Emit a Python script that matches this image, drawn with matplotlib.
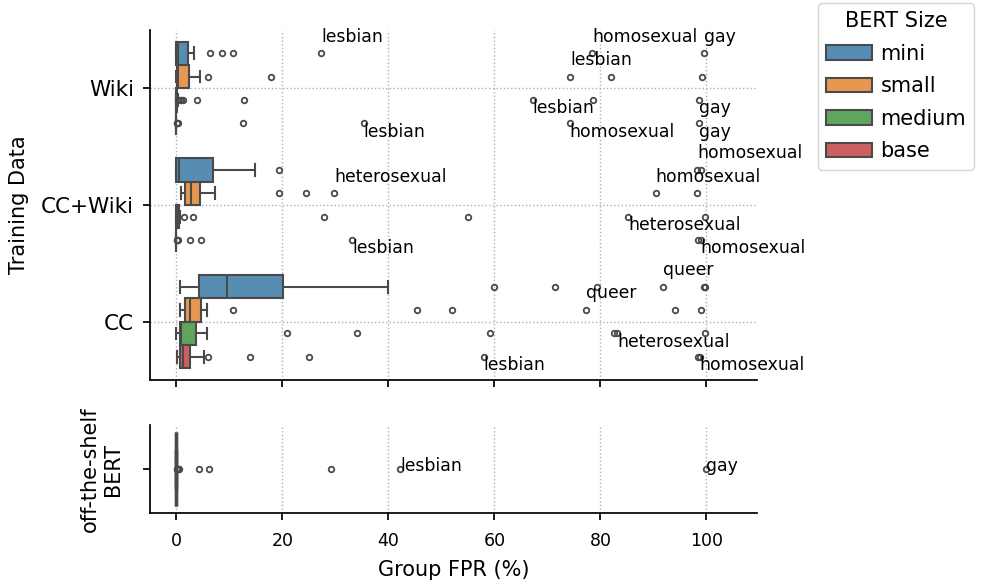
import matplotlib.pyplot as plt
from matplotlib.colors import to_rgba
from matplotlib.patches import Patch

sources = ['Wiki', 'CC+Wiki', 'CC']
sizes = ['mini', 'small', 'medium', 'base']
size_colors = ['#3274a1', '#e1812c', '#3a923a', '#c03d3e']

# box statistics: rows = training data, columns = BERT size
whis_lo = [[0.0, 0.0, 0.0, 0.0],
           [0.0, 0.8, 0.0, 0.0],
           [0.6, 0.6, 0.0, 0.1]]
q1 = [[0.0, 0.1, 0.0, 0.0],
      [0.0, 1.7, 0.0, 0.0],
      [4.3, 1.7, 0.6, 0.6]]
med = [[0.3, 0.3, 0.0, 0.0],
       [0.5, 2.7, 0.1, 0.0],
       [9.6, 2.5, 0.9, 1.3]]
q3 = [[2.2, 2.3, 0.1, 0.0],
      [6.9, 4.5, 0.5, 0.0],
      [20.1, 4.6, 3.7, 2.6]]
whis_hi = [[3.4, 4.4, 0.2, 0.0],
           [14.9, 7.3, 0.6, 0.0],
           [39.9, 5.7, 5.7, 5.2]]

fliers_wiki = [[6.4, 8.6, 10.7, 27.3, 78.4, 99.6],
               [6.0, 17.8, 74.3, 81.9, 99.2],
               [0.3, 0.6, 0.9, 1.2, 3.8, 12.8, 67.2, 78.6, 98.5],
               [0.05, 0.15, 0.25, 12.6, 35.3, 74.2, 98.5]]
fliers_ccwiki = [[19.3, 98.2, 98.9],
                 [19.3, 24.5, 29.8, 90.4, 98.2],
                 [1.4, 3.2, 27.8, 55.1, 85.2, 99.8],
                 [0.05, 0.15, 0.25, 2.6, 4.7, 33.2, 98.4, 98.9]]
fliers_cc = [[59.9, 71.5, 79.4, 91.8, 99.6, 99.8],
             [10.6, 45.4, 51.9, 77.2, 94.0, 99.0],
             [20.9, 34.1, 59.2, 82.5, 83.1, 99.8],
             [6.0, 13.8, 25.0, 58.0, 98.4, 98.7]]
fliers = [fliers_wiki, fliers_ccwiki, fliers_cc]

# named outliers (training data index, size index, value, group)
label_src = [0, 0, 0, 0, 0, 0, 0, 0, 0, 1, 1, 1, 1, 1, 1, 2, 2, 2, 2, 2]
label_size = [0, 0, 0, 1, 2, 2, 3, 3, 3, 0, 1, 1, 2, 3, 3, 0, 1, 2, 3, 3]
label_x = [27.3, 78.4, 99.6, 74.3, 67.2, 98.5, 35.3, 74.2, 98.5,
           98.2, 29.8, 90.4, 85.2, 33.2, 98.9,
           91.8, 77.2, 83.1, 58.0, 98.7]
label_word = ['lesbian', 'homosexual', 'gay', 'lesbian', 'lesbian', 'gay',
              'lesbian', 'homosexual', 'gay',
              'homosexual', 'heterosexual', 'homosexual', 'heterosexual',
              'lesbian', 'homosexual',
              'queer', 'queer', 'heterosexual', 'lesbian', 'homosexual']

# off-the-shelf BERT
ots_stats = [0.0, 0.0, 0.0, 0.0, 0.0]  # whislo, q1, med, q3, whishi
ots_fliers = [0.05, 0.1, 0.2, 0.3, 0.4, 4.2, 6.2, 29.2, 42.2, 99.9]
ots_label_x = [42.2, 99.9]
ots_label_word = ['lesbian', 'gay']

edge = '#4a4a4a'
offsets = [-0.3, -0.1, 0.1, 0.3]

fig = plt.figure(figsize=(9.82, 5.8), dpi=100)
ax = fig.add_axes([0.1527, 0.3448, 0.618, 0.6035])
ax2 = fig.add_axes([0.1527, 0.1155, 0.618, 0.1517])

line_kw = dict(color=edge, linewidth=1.5)
flier_kw = dict(marker='o', markerfacecolor='none', markeredgecolor=edge,
                markersize=4, markeredgewidth=1.3, linestyle='none')

for j, s in enumerate(sizes):
    stats = []
    for i in range(len(sources)):
        stats.append(dict(whislo=whis_lo[i][j], q1=q1[i][j], med=med[i][j],
                          q3=q3[i][j], whishi=whis_hi[i][j], fliers=fliers[i][j]))
    ax.bxp(stats, positions=[i + offsets[j] for i in range(len(sources))],
           widths=0.2, capwidths=0.1, orientation='horizontal', patch_artist=True,
           boxprops=dict(facecolor=to_rgba(size_colors[j], 0.82), edgecolor=edge, linewidth=1.5),
           whiskerprops=line_kw, capprops=line_kw, medianprops=line_kw,
           flierprops=flier_kw, manage_ticks=False)

for src, sz, x, w in zip(label_src, label_size, label_x, label_word):
    dy = 12 if sz < 2 else -6
    ax.annotate(w, (x, src + offsets[sz]), xytext=(0, dy), textcoords='offset points',
                ha='left', va='center', fontsize=12.4, annotation_clip=False)

ax.set_ylim(2.5, -0.5)
ax.set_yticks(range(len(sources)))
ax.set_yticklabels(sources, fontsize=15.5)
ax.set_ylabel('Training Data', fontsize=15)
ax.yaxis.set_label_coords(-0.2, 0.5)

ots = dict(whislo=ots_stats[0], q1=ots_stats[1], med=ots_stats[2],
           q3=ots_stats[3], whishi=ots_stats[4], fliers=ots_fliers)
ots_line = dict(color=edge, linewidth=2.4)
ax2.bxp([ots], positions=[0], widths=0.85, capwidths=0.4, orientation='horizontal',
        patch_artist=True,
        boxprops=dict(facecolor=to_rgba(size_colors[0], 0.82), edgecolor=edge, linewidth=2.4),
        whiskerprops=ots_line, capprops=ots_line, medianprops=ots_line,
        flierprops=flier_kw, manage_ticks=False)
for x, w in zip(ots_label_x, ots_label_word):
    ax2.annotate(w, (x, 0), xytext=(0, 2), textcoords='offset points',
                 ha='left', va='center', fontsize=12.4, annotation_clip=False)
ax2.set_ylim(0.5, -0.5)
ax2.set_yticks([0])
ax2.set_yticklabels([''])
ax2.set_ylabel('off-the-shelf\nBERT', fontsize=15)
ax2.yaxis.set_label_coords(-0.045, 0.5)
ax2.set_xlabel('Group FPR (%)', fontsize=15, labelpad=7.5)

for a in (ax, ax2):
    a.set_xlim(-5, 109.5)
    a.set_xticks([0, 20, 40, 60, 80, 100])
    a.spines['top'].set_visible(False)
    a.spines['right'].set_visible(False)
    a.spines['left'].set_linewidth(1.25)
    a.spines['bottom'].set_linewidth(1.25)
    a.tick_params(axis='both', length=5, width=1.25)
    a.tick_params(axis='y', pad=6.5)
    a.tick_params(axis='x', labelsize=12.5, pad=8.5)
    a.set_axisbelow(True)
ax.set_xticklabels([])
ax.grid(True, linestyle=':', color='#b0b0b0', linewidth=1)
ax2.grid(True, axis='x', linestyle=':', color='#b0b0b0', linewidth=1)

handles = [Patch(facecolor=to_rgba(c, 0.82), edgecolor=edge, linewidth=1.5, label=s)
           for s, c in zip(sizes, size_colors)]
fig.legend(handles=handles, title='BERT Size', loc='upper left',
           bbox_to_anchor=(0.833, 0.995), borderaxespad=0, fontsize=15, title_fontsize=15,
           handlelength=2.2, handletextpad=0.4, labelspacing=0.6)

fig.savefig('out.png', dpi=100)
